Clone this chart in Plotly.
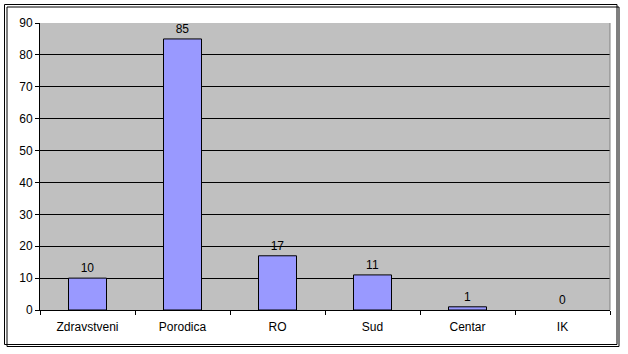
import plotly.graph_objects as go

categories = ["Zdravstveni", "Porodica", "RO", "Sud", "Centar", "IK"]
values = [10, 85, 17, 11, 1, 0]
y_ticks = [0, 10, 20, 30, 40, 50, 60, 70, 80, 90]

W, H = 628, 354
L, R, T, B = 40, 18, 23, 44
pw = W - L - R
ph = H - T - B

def px(x):
    return (x - L) / pw

def py(y):
    return (H - B - y) / ph

fig = go.Figure(go.Bar(
    x=categories, y=values,
    marker=dict(color="#9999FF",
                line=dict(color="black", width=[1 if v > 0 else 0 for v in values])),
    width=0.4,
    text=[str(v) for v in values], textposition="outside",
    textfont=dict(family="Liberation Sans, Arial", size=12, color="black"),
    cliponaxis=False,
))

fig.update_layout(
    width=W, height=H,
    margin=dict(l=L, r=R, t=T, b=B),
    paper_bgcolor="white", plot_bgcolor="#C0C0C0",
    font=dict(family="Liberation Sans, Arial", size=12, color="black"),
    showlegend=False,
    xaxis=dict(tickson="boundaries", ticks="outside", ticklen=4, tickcolor="black",
               showline=True, linecolor="black", linewidth=1, showgrid=False,
               ticklabelstandoff=6, tickfont=dict(size=12)),
    yaxis=dict(range=[0, 90], tickvals=y_ticks, ticks="outside", ticklen=4, tickcolor="black",
               showline=True, linecolor="black", linewidth=1,
               showgrid=True, gridcolor="black", gridwidth=1, zeroline=False,
               tickfont=dict(size=12)),
    shapes=[
        # plot area border (right side)
        dict(type="line", xref="paper", yref="paper", x0=1, x1=1, y0=0, y1=1,
             line=dict(color="#808080", width=1)),
        # shadow
        dict(type="rect", xref="paper", yref="paper",
             x0=px(7), x1=px(619), y0=py(346.5), y1=py(7),
             line=dict(color="black", width=1), fillcolor="rgba(0,0,0,0)", layer="below"),
        # outer chart border
        dict(type="rect", xref="paper", yref="paper",
             x0=px(4.5), x1=px(617), y0=py(344.5), y1=py(4.5),
             line=dict(color="black", width=1), fillcolor="rgba(0,0,0,0)", layer="below"),
    ],
)

fig.write_html("out.html")
